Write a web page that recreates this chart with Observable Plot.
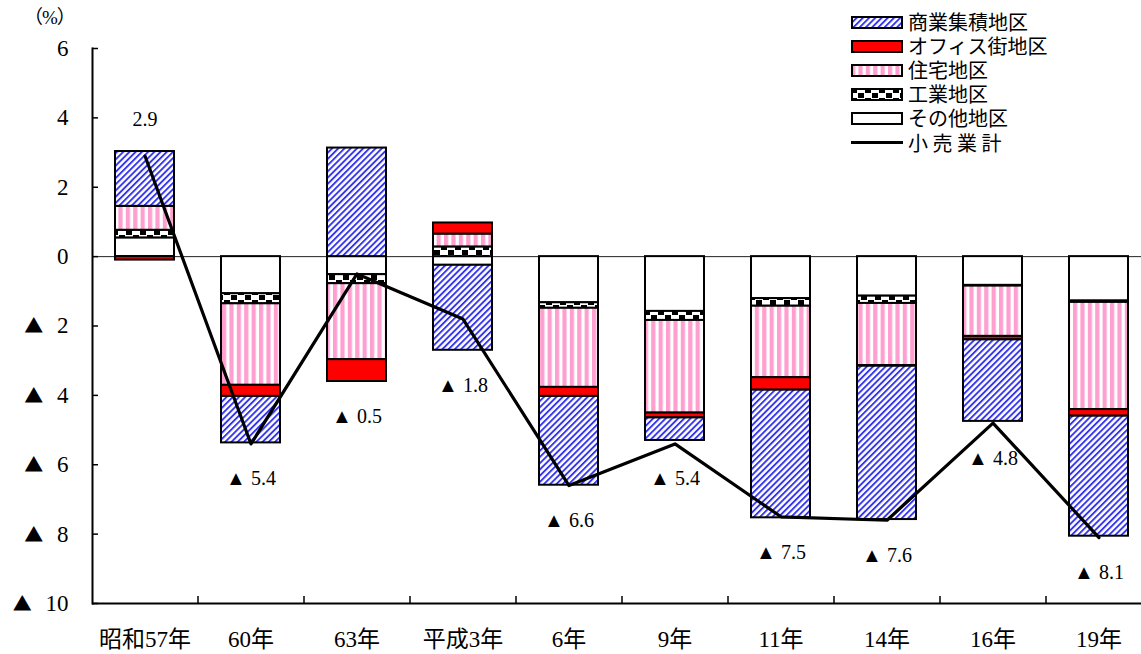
<!DOCTYPE html>
<html>
<head>
<meta charset="utf-8">
<script src="https://cdn.jsdelivr.net/npm/d3@7"></script>
<script src="https://cdn.jsdelivr.net/npm/@observablehq/plot@0.6"></script>
<style>
  html, body { margin: 0; padding: 0; background: white; }
  #wrap { position: relative; width: 1141px; height: 654px; overflow: hidden; }
  #unit { position: absolute; left: 24px; top: 8px; font: 19px "Liberation Serif", "Noto Sans CJK JP", serif; line-height: 1; letter-spacing: -1px; }
  #legend { position: absolute; left: 851px; top: 10px; font: 20px "Noto Sans CJK JP", sans-serif; }
  .row { display: flex; align-items: center; height: 24.1px; }
  .row span { line-height: 20px; height: 20px; display: inline-block; }
  .row svg { margin-right: 5px; }
  #chart g[aria-label="y-axis tick label"] text { font-family: "Liberation Serif", "DejaVu Serif", serif; font-size: 23px; }
  #chart g[aria-label="x-axis tick label"] text { font-family: "Liberation Serif", "Noto Sans CJK JP", serif; font-size: 23px; }
  #chart tspan.tri { font-family: "Noto Sans CJK JP", sans-serif; font-size: 19px; }
</style>
</head>
<body>
<div id="wrap">
  <div id="chart"></div>
  <div id="unit">（%）</div>
  <div id="legend"></div>
</div>
<script>
const categories = ["昭和57年", "60年", "63年", "平成3年", "6年", "9年", "11年", "14年", "16年", "19年"];
const types = ["その他地区", "工業地区", "住宅地区", "オフィス街地区", "商業集積地区"];
const other       = [0.54, -1.07, -0.52, -0.25, -1.33, -1.58, -1.21, -1.14, -0.83, -1.28];
const industrial  = [0.22, -0.29, -0.26,  0.28, -0.16, -0.26, -0.22, -0.21, -0.02, -0.04];
const residential = [0.69, -2.35, -2.19,  0.37, -2.28, -2.67, -2.06, -1.79, -1.45, -3.09];
const office      = [-0.10, -0.32, -0.63, 0.32, -0.26, -0.14, -0.36, -0.02, -0.10, -0.19];
const commercial  = [1.58, -1.34, 3.13, -2.45, -2.56, -0.65, -3.68, -4.42, -2.35, -3.46];
const totals      = [2.9, -5.4, -0.5, -1.8, -6.6, -5.4, -7.5, -7.6, -4.8, -8.1];
const yTicks = [6, 4, 2, 0, -2, -4, -6, -8, -10];
const legendOrder = ["商業集積地区", "オフィス街地区", "住宅地区", "工業地区", "その他地区"];
const lineName = "小 売 業 計";

const series = [other, industrial, residential, office, commercial];
const patternIds = ["p-other", "p-ind", "p-res", "p-off", "p-com"];
const fills = patternIds.map(id => `url(#${id})`);

const data = categories.flatMap((c, i) => types.map((t, j) => ({cat: c, type: t, value: series[j][i]})));
const totalData = categories.map((c, i) => {
  const pos = d3.sum(series, s => Math.max(0, s[i]));
  const neg = d3.sum(series, s => Math.min(0, s[i]));
  const t = totals[i];
  return {cat: c, total: t, labelY: t < 0 ? Math.min(t, neg) : Math.max(t, pos)};
});
const fmt = d => d.total < 0 ? "▲ " + (-d.total).toFixed(1) : d.total.toFixed(1);

const serif = "Liberation Serif, Noto Sans CJK JP, serif";
const left = 92, step = 106;

const chart = Plot.plot({
  width: 1141, height: 654,
  marginLeft: left, marginRight: 0, marginTop: 48, marginBottom: 51,
  style: {background: "white", fontFamily: serif, color: "black", overflow: "hidden"},
  x: {domain: categories, range: [left, left + step * categories.length], paddingInner: 0.443, paddingOuter: 0.2215, label: null},
  y: {domain: [-10, 6], range: [603, 48], label: null},
  color: {domain: types, range: fills},
  marks: [
    Plot.ruleY([0], {stroke: "#222", strokeWidth: 1}),
    Plot.barY(data, {x: "cat", y: "value", fill: "type", stroke: "black", strokeWidth: 2}),
    Plot.line(totalData, {x: "cat", y: "total", stroke: "black", strokeWidth: 3.2}),
    Plot.text(totalData.filter(d => d.total >= 0), {x: "cat", y: "labelY", text: fmt, dy: -32, fontSize: 20, fontFamily: serif}),
    Plot.text(totalData.filter(d => d.total < 0), {x: "cat", y: "labelY", text: fmt, dy: 35, fontSize: 20, fontFamily: serif}),
    Plot.ruleY([-10], {stroke: "black", strokeWidth: 2}),
    Plot.frame({anchor: "left", stroke: "black", strokeWidth: 2}),
    Plot.ruleX(categories.slice(1), {y1: -10, y2: -9.8, dx: -step / 2, stroke: "black", strokeWidth: 1.5}),
    Plot.axisY({ticks: yTicks, tickSize: -6, text: null, strokeWidth: 1.5}),
    Plot.axisY({ticks: yTicks, tickSize: 0, tickPadding: 24, fontSize: 23,
      tickFormat: d => d < 0 ? "▲ " + (-d) : String(d)}),
    Plot.axisX({tickSize: 0, tickPadding: 27, fontSize: 23})
  ]
});

const defs = `
<defs>
  <pattern id="p-com" patternUnits="userSpaceOnUse" width="4.4" height="4.4" patternTransform="rotate(45)">
    <rect width="4.4" height="4.4" fill="#ffffff"/>
    <rect width="1.9" height="4.4" fill="#3535f0"/>
  </pattern>
  <pattern id="p-off" patternUnits="userSpaceOnUse" width="4" height="4">
    <rect width="4" height="4" fill="#ff0000"/>
  </pattern>
  <pattern id="p-res" patternUnits="userSpaceOnUse" width="7.4" height="4">
    <rect width="7.4" height="4" fill="#ffffff"/>
    <rect width="4.2" height="4" fill="#ff9fcf"/>
  </pattern>
  <pattern id="p-ind" patternUnits="userSpaceOnUse" width="14" height="10">
    <rect width="14" height="10" fill="#ffffff"/>
    <rect x="0" y="0" width="6" height="5" fill="#000"/>
    <rect x="7" y="5" width="6" height="5" fill="#000"/>
  </pattern>
  <pattern id="p-other" patternUnits="userSpaceOnUse" width="4" height="4">
    <rect width="4" height="4" fill="#ffffff"/>
  </pattern>
</defs>`;
const tmp = document.createElementNS("http://www.w3.org/2000/svg", "svg");
tmp.innerHTML = defs;
chart.insertBefore(tmp.firstElementChild, chart.firstChild);

// render the ▲ of the y tick labels with the CJK glyph, followed by a gap
chart.querySelectorAll('g[aria-label="y-axis tick label"] text').forEach(t => {
  const s = t.textContent;
  if (s.startsWith("▲")) {
    t.textContent = "";
    const a = document.createElementNS("http://www.w3.org/2000/svg", "tspan");
    a.setAttribute("class", "tri");
    a.textContent = "▲";
    const b = document.createElementNS("http://www.w3.org/2000/svg", "tspan");
    b.setAttribute("dx", "8");
    b.textContent = s.slice(1);
    t.appendChild(a); t.appendChild(b);
  }
});
document.getElementById("chart").appendChild(chart);

const legend = document.getElementById("legend");
legendOrder.forEach(name => {
  const i = types.indexOf(name);
  const row = document.createElement("div");
  row.className = "row";
  row.innerHTML = `<svg width="52" height="13"><rect x="1" y="1" width="50" height="11" fill="${fills[i]}" stroke="black" stroke-width="2"/></svg><span>${name}</span>`;
  legend.appendChild(row);
});
const lrow = document.createElement("div");
lrow.className = "row";
lrow.innerHTML = `<svg width="52" height="13"><line x1="0" x2="52" y1="6.5" y2="6.5" stroke="black" stroke-width="3"/></svg><span>${lineName}</span>`;
legend.appendChild(lrow);
</script>
</body>
</html>
